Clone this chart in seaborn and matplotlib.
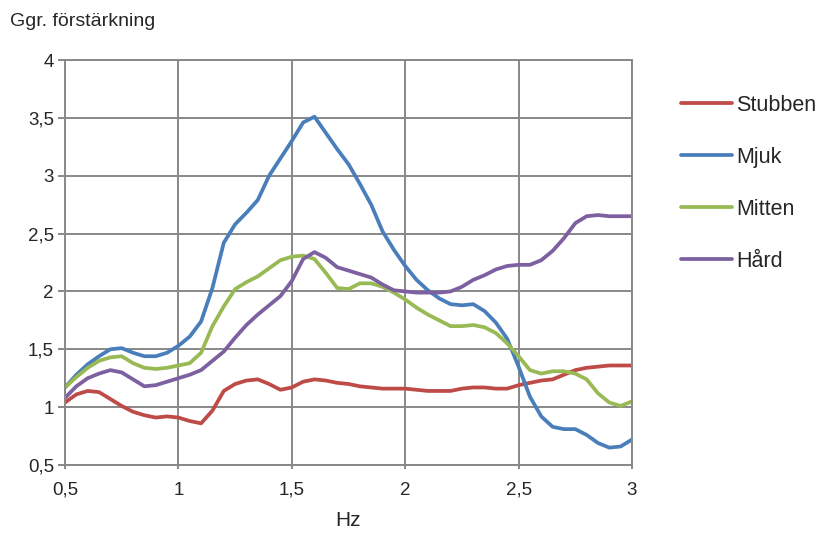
import matplotlib
matplotlib.use("Agg")
import matplotlib.pyplot as plt
import seaborn as sns
import pandas as pd

# Gain vs. frequency, sampled every 0.05 Hz
hz = [0.50, 0.55, 0.60, 0.65, 0.70, 0.75, 0.80, 0.85, 0.90, 0.95,
      1.00, 1.05, 1.10, 1.15, 1.20, 1.25, 1.30, 1.35, 1.40, 1.45,
      1.50, 1.55, 1.60, 1.65, 1.70, 1.75, 1.80, 1.85, 1.90, 1.95,
      2.00, 2.05, 2.10, 2.15, 2.20, 2.25, 2.30, 2.35, 2.40, 2.45,
      2.50, 2.55, 2.60, 2.65, 2.70, 2.75, 2.80, 2.85, 2.90, 2.95, 3.00]

stubben = [1.04, 1.11, 1.14, 1.13, 1.07, 1.01, 0.96, 0.93, 0.91, 0.92,
           0.91, 0.88, 0.86, 0.97, 1.14, 1.20, 1.23, 1.24, 1.20, 1.15,
           1.17, 1.22, 1.24, 1.23, 1.21, 1.20, 1.18, 1.17, 1.16, 1.16,
           1.16, 1.15, 1.14, 1.14, 1.14, 1.16, 1.17, 1.17, 1.16, 1.16,
           1.19, 1.21, 1.23, 1.24, 1.28, 1.32, 1.34, 1.35, 1.36, 1.36, 1.36]

mjuk = [1.17, 1.28, 1.37, 1.44, 1.50, 1.51, 1.47, 1.44, 1.44, 1.47,
        1.53, 1.61, 1.74, 2.03, 2.42, 2.58, 2.68, 2.79, 3.00, 3.15,
        3.30, 3.46, 3.51, 3.37, 3.23, 3.10, 2.93, 2.75, 2.52, 2.36,
        2.22, 2.10, 2.01, 1.94, 1.89, 1.88, 1.89, 1.83, 1.73, 1.59,
        1.35, 1.09, 0.92, 0.83, 0.81, 0.81, 0.76, 0.69, 0.65, 0.66, 0.72]

mitten = [1.17, 1.26, 1.34, 1.40, 1.43, 1.44, 1.38, 1.34, 1.33, 1.34,
          1.36, 1.38, 1.47, 1.70, 1.87, 2.02, 2.08, 2.13, 2.20, 2.27,
          2.30, 2.31, 2.28, 2.16, 2.03, 2.02, 2.07, 2.07, 2.04, 1.99,
          1.93, 1.86, 1.80, 1.75, 1.70, 1.70, 1.71, 1.69, 1.64, 1.55,
          1.44, 1.32, 1.29, 1.31, 1.31, 1.29, 1.24, 1.12, 1.04, 1.01, 1.05]

hard = [1.08, 1.18, 1.25, 1.29, 1.32, 1.30, 1.24, 1.18, 1.19, 1.22,
        1.25, 1.28, 1.32, 1.40, 1.48, 1.60, 1.71, 1.80, 1.88, 1.96,
        2.09, 2.28, 2.34, 2.29, 2.21, 2.18, 2.15, 2.12, 2.06, 2.01,
        2.00, 1.99, 1.99, 1.99, 2.00, 2.04, 2.10, 2.14, 2.19, 2.22,
        2.23, 2.23, 2.27, 2.35, 2.46, 2.59, 2.65, 2.66, 2.65, 2.65, 2.65]

series_names = ["Stubben", "Mjuk", "Mitten", "Hård"]
colors = ["#BE4B48", "#4A7EBB", "#98B954", "#7D60A0"]

x_ticks = [0.5, 1, 1.5, 2, 2.5, 3]
x_tick_labels = ["0,5", "1", "1,5", "2", "2,5", "3"]
y_ticks = [0.5, 1, 1.5, 2, 2.5, 3, 3.5, 4]
y_tick_labels = ["0,5", "1", "1,5", "2", "2,5", "3", "3,5", "4"]

frames = []
for name, ys in zip(series_names, [stubben, mjuk, mitten, hard]):
    frames.append(pd.DataFrame({"Hz": hz, "gain": ys, "serie": name}))
df = pd.concat(frames, ignore_index=True)

sns.set_style("white")
plt.rcParams["font.family"] = ["Liberation Sans", "DejaVu Sans"]

fig = plt.figure(figsize=(8.19, 5.34), dpi=100)
ax = fig.add_axes([65 / 819, 1 - 465 / 534, (632 - 65) / 819, (465 - 60) / 534])

sns.lineplot(data=df, x="Hz", y="gain", hue="serie", hue_order=series_names,
             palette=colors, linewidth=2.7, ax=ax, estimator=None, sort=True,
             solid_joinstyle="round", solid_capstyle="round")

ax.set_xlim(0.5, 3)
ax.set_ylim(0.5, 4)
ax.set_xticks(x_ticks)
ax.set_xticklabels(x_tick_labels)
ax.set_yticks(y_ticks)
ax.set_yticklabels(y_tick_labels)
ax.grid(True, color="#888888", linewidth=1.4)
ax.set_axisbelow(True)
for s in ax.spines.values():
    s.set_visible(True)
    s.set_color("#888888")
    s.set_linewidth(1.4)
ax.tick_params(axis="y", which="major", length=5, width=1.4, color="#888888",
               labelsize=13.5, pad=3, left=True)
ax.tick_params(axis="x", which="major", length=3, width=1.4, color="#888888",
               labelsize=13.5, pad=9, bottom=True)
ax.set_xlabel("Hz", fontsize=15, labelpad=9)
ax.set_ylabel("")
fig.text(10 / 819, 1 - 22 / 534, "Ggr. förstärkning", fontsize=14,
         ha="left", va="center")

handles, labels = ax.get_legend_handles_labels()
ax.legend(handles, labels, loc="center left", bbox_to_anchor=(662 / 819, 1 - 183 / 534),
          bbox_transform=fig.transFigure, frameon=False, fontsize=15.5,
          handlelength=2.37, handletextpad=0.17, labelspacing=1.44)

fig.savefig("out.png", dpi=100)
